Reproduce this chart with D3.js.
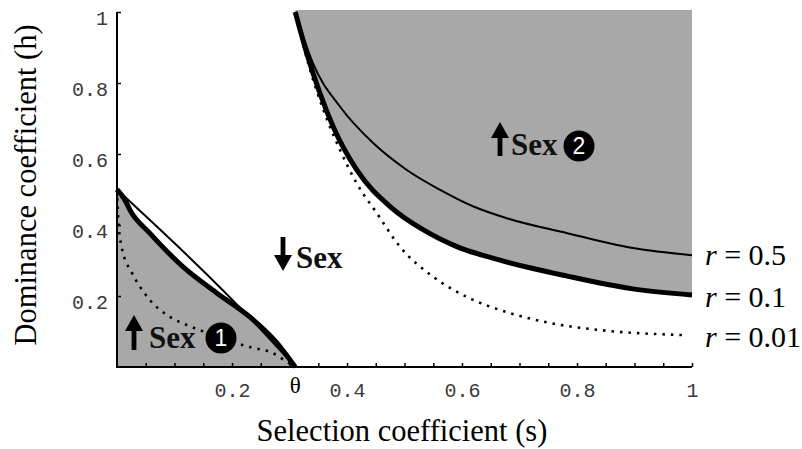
<!DOCTYPE html>
<html>
<head>
<meta charset="utf-8">
<script src="https://cdn.jsdelivr.net/npm/d3@7"></script>
<style>
body { margin: 0; background: #fff; }
svg { display: block; }
</style>
</head>
<body>
<div id="chart"></div>
<script>
// threshold where all the curves meet the axes
var theta = 0.31;

// r = 0.5 (thin), r = 0.1 (thick), r = 0.01 (dotted): [s, h]
var r05_left = [[0, 0.5], [0.243, 0.118], [0.31, 0]];
var r01_left = [[0, 0.5], [0.014, 0.47], [0.0226, 0.442], [0.057, 0.377], [0.115, 0.282],
    [0.174, 0.208], [0.231, 0.141], [0.278, 0.068], [0.31, 0]];
var r001_left = [[0, 0.5], [0.002, 0.42], [0.008, 0.338], [0.026, 0.265], [0.04, 0.226],
    [0.057, 0.189], [0.092, 0.141], [0.122, 0.118], [0.157, 0.096], [0.231, 0.056],
    [0.271, 0.039], [0.296, 0.014], [0.31, 0]];

var r05_right = [[0.31, 1], [0.324, 0.93], [0.341, 0.855], [0.388, 0.733], [0.446, 0.63],
    [0.504, 0.555], [0.562, 0.499], [0.62, 0.452], [0.678, 0.419], [0.783, 0.377],
    [0.897, 0.335], [1, 0.315]];
var r01_right = [[0.31, 1], [0.33, 0.884], [0.353, 0.771], [0.376, 0.677], [0.417, 0.555],
    [0.475, 0.452], [0.533, 0.386], [0.591, 0.339], [0.666, 0.301], [0.783, 0.256],
    [0.897, 0.22], [1, 0.203]];
var r001_right = [[0.31, 1], [0.33, 0.87], [0.359, 0.724], [0.388, 0.611], [0.417, 0.517],
    [0.452, 0.433], [0.492, 0.339], [0.55, 0.254], [0.609, 0.197], [0.683, 0.152],
    [0.753, 0.124], [0.84, 0.104], [0.984, 0.09]];

var x_minor = d3.range(1, 21).map(function (i) { return i * 0.05; });
var x_labels = [0.2, 0.4, 0.6, 0.8, 1];
var y_ticks = [0.2, 0.4, 0.6, 0.8, 1];
var y_labels = ["0.2", "0.4", "0.6", "0.8", "1"];
var r_labels = ["0.5", "0.1", "0.01"];
var r_label_h = [r05_right[r05_right.length - 1][1], r01_right[r01_right.length - 1][1], r001_right[r001_right.length - 1][1]];

var W = 802, H = 449;
var svg = d3.select("#chart").append("svg").attr("width", W).attr("height", H);

var x = d3.scaleLinear().domain([0, 1]).range([117, 692]);
var y = d3.scaleLinear().domain([0, 1]).range([367, 12]);

var grey = "#a8a8a8";
var line = d3.line().x(function (d) { return x(d[0]); }).y(function (d) { return y(d[1]); }).curve(d3.curveMonotoneX);

// shaded regions
svg.append("path")
    .attr("d", d3.area().x(function (d) { return x(d[0]); }).y0(y(0)).y1(function (d) { return y(d[1]); }).curve(d3.curveMonotoneX)(r01_left))
    .attr("fill", grey);
svg.append("path")
    .attr("d", d3.area().x(function (d) { return x(d[0]); }).y0(y(1) - 2).y1(function (d) { return y(d[1]); }).curve(d3.curveMonotoneX)(r01_right))
    .attr("fill", grey);

// curves
function draw_curve(data, w, dash) {
    var p = svg.append("path").attr("d", line(data))
            .attr("fill", "none").attr("stroke", "#000").attr("stroke-width", w);
    if (dash) {
        p.attr("stroke-dasharray", dash);
    }
}
draw_curve(r001_left, 2.6, "2.5,6");
draw_curve(r001_right, 2.6, "2.5,6");
draw_curve(r05_left, 2);
draw_curve(r05_right, 2);
draw_curve(r01_left, 5);
draw_curve(r01_right, 5);

// axes
var gx = svg.append("g").attr("transform", "translate(0," + y(0) + ")")
        .call(d3.axisBottom(x).tickValues(x_minor).tickSizeInner(-4).tickSizeOuter(0)
                .tickFormat(function (d) {
                    var k = x_labels.findIndex(function (v) { return Math.abs(v - d) < 1e-6; });
                    return k > -1 ? (x_labels[k] === 1 ? "1" : x_labels[k].toFixed(1)) : "";
                }));
gx.select(".domain").attr("stroke-width", 2).attr("d", "M" + (x(0) - 1) + ",0H" + x(1));
gx.selectAll(".tick line").attr("stroke-width", 1.5);
gx.selectAll(".tick text").attr("y", 30).attr("dy", 0)
        .attr("font-family", "Liberation Mono, monospace").attr("font-size", 20).attr("fill", "#3a3a3a");

var gy = svg.append("g").attr("transform", "translate(" + x(0) + ",0)")
        .call(d3.axisLeft(y).tickValues(y_ticks).tickSizeInner(-4).tickSizeOuter(0)
                .tickFormat(function (d, i) { return y_labels[i]; }));
gy.select(".domain").attr("stroke-width", 2).attr("d", "M0," + y(1) + "V" + y(0));
gy.selectAll(".tick line").attr("stroke-width", 1.5);
gy.selectAll(".tick text").attr("x", -9).attr("dy", 12.5)
        .attr("font-family", "Liberation Mono, monospace").attr("font-size", 20).attr("fill", "#3a3a3a");

svg.append("text").attr("x", x(theta)).attr("y", 393).attr("text-anchor", "middle")
        .attr("font-family", "Liberation Serif, serif").attr("font-size", 23).text("θ");

// axis titles
svg.append("text").attr("x", 402).attr("y", 441).attr("text-anchor", "middle")
        .attr("font-family", "Liberation Serif, serif").attr("font-size", 30.5)
        .text("Selection coefficient (s)");
svg.append("text").attr("transform", "translate(36,185) rotate(-90)").attr("text-anchor", "middle")
        .attr("font-family", "Liberation Serif, serif").attr("font-size", 30.5)
        .text("Dominance coefficient (h)");

// r labels at the right end of the curves
r_labels.forEach(function (lab, i) {
    var t = svg.append("text").attr("x", 705).attr("y", y(r_label_h[i]) + [10, 12, 12][i])
            .attr("font-family", "Liberation Serif, serif").attr("font-size", 30);
    t.append("tspan").attr("font-style", "italic").text("r");
    t.append("tspan").text(" = " + lab);
});

// region annotations
function arrow(cx, top, bottom, up) {
    var hw = 9, hl = 16, sw = 2.4;
    var tip = up ? top : bottom, base = up ? top + hl : bottom - hl, tail = up ? bottom : top;
    svg.append("path")
        .attr("d", "M" + cx + "," + tip + "L" + (cx + hw) + "," + base + "L" + (cx + sw) + "," + base +
                "L" + (cx + sw) + "," + tail + "L" + (cx - sw) + "," + tail + "L" + (cx - sw) + "," + base +
                "L" + (cx - hw) + "," + base + "Z")
        .attr("fill", "#000");
}
function sex_label(tx, ty) {
    svg.append("text").attr("x", tx).attr("y", ty)
        .attr("font-family", "Liberation Serif, serif").attr("font-weight", "bold").attr("font-size", 31)
        .attr("fill", "#111").text("Sex");
}
function badge(cx, cy, num) {
    svg.append("circle").attr("cx", cx).attr("cy", cy).attr("r", 15.5).attr("fill", "#000");
    svg.append("text").attr("x", cx).attr("y", cy).attr("dy", "0.36em").attr("text-anchor", "middle")
        .attr("font-family", "Liberation Sans, sans-serif").attr("font-size", 23).attr("fill", "#fff").text(num);
}

arrow(134, 315, 350, true);
sex_label(149, 348);
badge(221, 338, "1");

arrow(283, 237, 271, false);
sex_label(296, 268);

arrow(500, 122, 156, true);
sex_label(511, 155);
badge(579, 146, "2");
</script>
</body>
</html>
